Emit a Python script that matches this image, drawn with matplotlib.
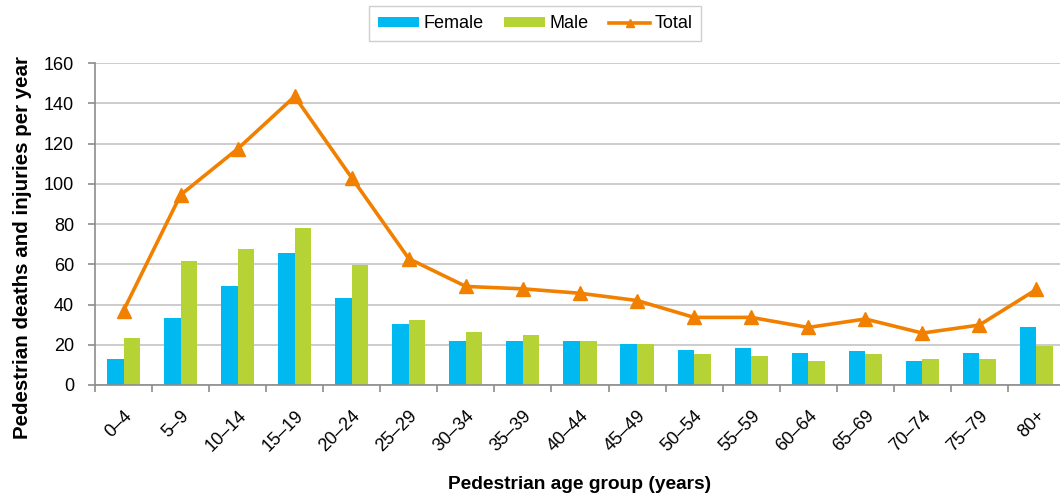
import numpy as np
import matplotlib.pyplot as plt

plt.rcParams['font.family'] = ['Liberation Sans', 'DejaVu Sans']

age_groups = ['0–4', '5–9', '10–14', '15–19', '20–24', '25–29', '30–34', '35–39',
              '40–44', '45–49', '50–54', '55–59', '60–64', '65–69', '70–74', '75–79', '80+']
female = [13.1, 33.2, 49.4, 65.7, 43.4, 30.2, 22.0, 22.0, 22.0, 20.6, 17.6, 18.4, 16.1, 17.1, 11.8, 16.1, 28.7]
male = [23.5, 61.4, 67.8, 78.3, 59.7, 32.5, 26.5, 25.0, 22.0, 20.6, 15.4, 14.6, 11.8, 15.4, 13.1, 13.1, 19.2]
total = [37.0, 94.5, 117.4, 143.5, 103.0, 62.8, 49.0, 47.8, 45.6, 42.0, 33.6, 33.6, 28.6, 32.8, 25.8, 29.8, 47.5]

x = np.arange(len(age_groups))
w = 0.29

fig = plt.figure(figsize=(10.6, 4.98), dpi=100)
# plot area runs a little past the right edge, as in the original
ax = fig.add_axes([0.0896, 0.227, 0.9151, 0.646])

b1 = ax.bar(x - w / 2, female, w, color='#00B9F1', label='Female', zorder=2)
b2 = ax.bar(x + w / 2, male, w, color='#B5D334', label='Male', zorder=2)
ln, = ax.plot(x, total, color='#F28000', lw=2.6, marker='^', markersize=10.5, label='Total', zorder=3)

ax.set_xlim(-0.5, len(age_groups) - 0.5)
ax.set_ylim(0, 160)
ax.set_yticks(range(0, 161, 20))
ax.yaxis.grid(True, color='#C4C4C4', lw=1.2, zorder=0)
ax.set_axisbelow(True)

ax.set_xticks(x)
ax.set_xticklabels(age_groups, rotation=45, ha='right', va='top', rotation_mode='anchor', fontsize=13)
ax.set_xticks(np.arange(-0.5, len(age_groups)), minor=True)
ax.tick_params(axis='x', which='major', length=0, pad=16)
ax.tick_params(axis='x', which='minor', length=5, width=1.2, color='#8C8C8C')
ax.tick_params(axis='y', labelsize=13, length=5, width=1.2, color='#8C8C8C', pad=10)

for s in ['top', 'right']:
    ax.spines[s].set_visible(False)
for s in ['left', 'bottom']:
    ax.spines[s].set_color('#8C8C8C')
    ax.spines[s].set_linewidth(1.2)

fig.text(0.547, 0.028, 'Pedestrian age group (years)', fontsize=13.8, fontweight='bold',
         ha='center', va='center')
fig.text(0.021, 0.502, 'Pedestrian deaths and injuries per year', fontsize=14.8, fontweight='bold',
         ha='center', va='center', rotation=90)

leg = fig.legend([b1, b2, ln], ['Female', 'Male', 'Total'],
                 loc='center', bbox_to_anchor=(0.505, 0.952), ncol=3, fontsize=13,
                 frameon=True, fancybox=False, edgecolor='#C4C4C4',
                 handlelength=2.25, handleheight=0.45, columnspacing=1.15,
                 handletextpad=0.25, borderpad=0.5, borderaxespad=0)
leg.get_frame().set_linewidth(1.0)
leg.legend_handles[2].set_markersize(6)

fig.savefig('out.png', dpi=100)
